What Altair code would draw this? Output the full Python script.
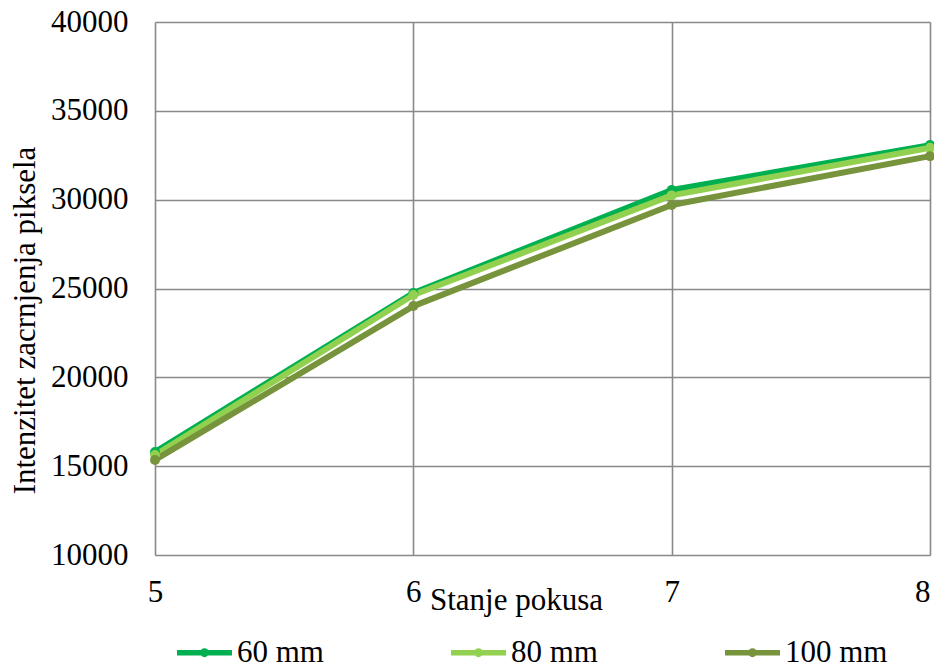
import altair as alt
import pandas as pd

stanje = [5, 6, 7, 8]
series_names = ["60 mm", "80 mm", "100 mm"]
v60 = [15800, 24750, 30540, 33070]
v80 = [15630, 24630, 30240, 32920]
v100 = [15350, 24010, 29700, 32450]
colors = ["#00B050", "#92D050", "#77933C"]
y_ticks = [10000, 15000, 20000, 25000, 30000, 35000, 40000]

rows = []
for name, vals in zip(series_names, [v60, v80, v100]):
    for x, y in zip(stanje, vals):
        rows.append({"stanje": x, "val": y, "serija": name})
df = pd.DataFrame(rows)

FONT = "Liberation Serif, Times New Roman, Times, Tinos, DejaVu Serif, Noto Serif, serif"
FS = 31

LEGEND_SYMBOL = (
    "M-1,-0.1L1,-0.1L1,0.1L-1,0.1Z"
    "M0.16,0A0.16,0.16,0,1,1,-0.16,0A0.16,0.16,0,1,1,0.16,0Z"
)

color = alt.Color(
    "serija:N",
    scale=alt.Scale(domain=series_names, range=colors),
    sort=series_names,
    legend=alt.Legend(
        title=None,
        orient="none",
        legendX=22,
        legendY=603,
        direction="horizontal",
        columns=3,
        gridAlign="all",
        columnPadding=111,
        symbolType=LEGEND_SYMBOL,
        symbolSize=3025,
        symbolStrokeWidth=0,
        symbolOpacity=1,
        labelFont=FONT,
        labelFontSize=FS,
        labelColor="black",
        labelOffset=5,
        labelLimit=300,
    ),
)

x = alt.X(
    "stanje:Q",
    scale=alt.Scale(domain=[5, 8], nice=False, zero=False),
    axis=alt.Axis(
        values=stanje,
        format="d",
        title="Stanje pokusa",
        titleFont=FONT,
        titleFontSize=FS,
        titleFontWeight="normal",
        titleColor="black",
        titleX=361,
        titleY=54,
        titleBaseline="alphabetic",
        titleAlign="center",
        labelFont=FONT,
        labelFontSize=FS,
        labelColor="black",
        labelPadding=22,
        labelFlush=False,
        labelAlign={"condition": {"test": "datum.value == 8", "value": "right"}, "value": "center"},
        ticks=False,
        domain=False,
        grid=True,
        gridColor="#898989",
        gridWidth=1.6,
    ),
)

y = alt.Y(
    "val:Q",
    scale=alt.Scale(domain=[10000, 40000], nice=False, zero=False),
    axis=alt.Axis(
        values=y_ticks,
        format="d",
        title="Intenzitet zacrnjenja piksela",
        titleFont=FONT,
        titleFontSize=FS,
        titleFontWeight="normal",
        titleColor="black",
        titleAngle=-90,
        titleX=-121,
        titleY=298,
        titleBaseline="alphabetic",
        titleAlign="center",
        labelFont=FONT,
        labelFontSize=FS,
        labelColor="black",
        labelPadding=27,
        labelFlush=False,
        ticks=False,
        domain=False,
        grid=True,
        gridColor="#898989",
        gridWidth=1.6,
    ),
)

base = alt.Chart(df)
lines = base.mark_line(strokeWidth=6, strokeCap="round", strokeJoin="round").encode(
    x=x, y=y, color=color, order=alt.Order("stanje:Q")
)
points = base.mark_point(filled=True, size=100, opacity=1).encode(
    x=x, y=y, color=alt.Color("serija:N", scale=alt.Scale(domain=series_names, range=colors), legend=None)
)

chart = (
    alt.layer(lines, points)
    .properties(
        width=775,
        height=533,
        autosize=alt.AutoSizeParams(type="none"),
        padding={"left": 147, "top": 14, "right": 4, "bottom": 113},
    )
    .configure_view(stroke=None)
    .configure(background="white", font=FONT)
)

chart.save("out.html", embed_options={"renderer": "svg", "actions": False})
